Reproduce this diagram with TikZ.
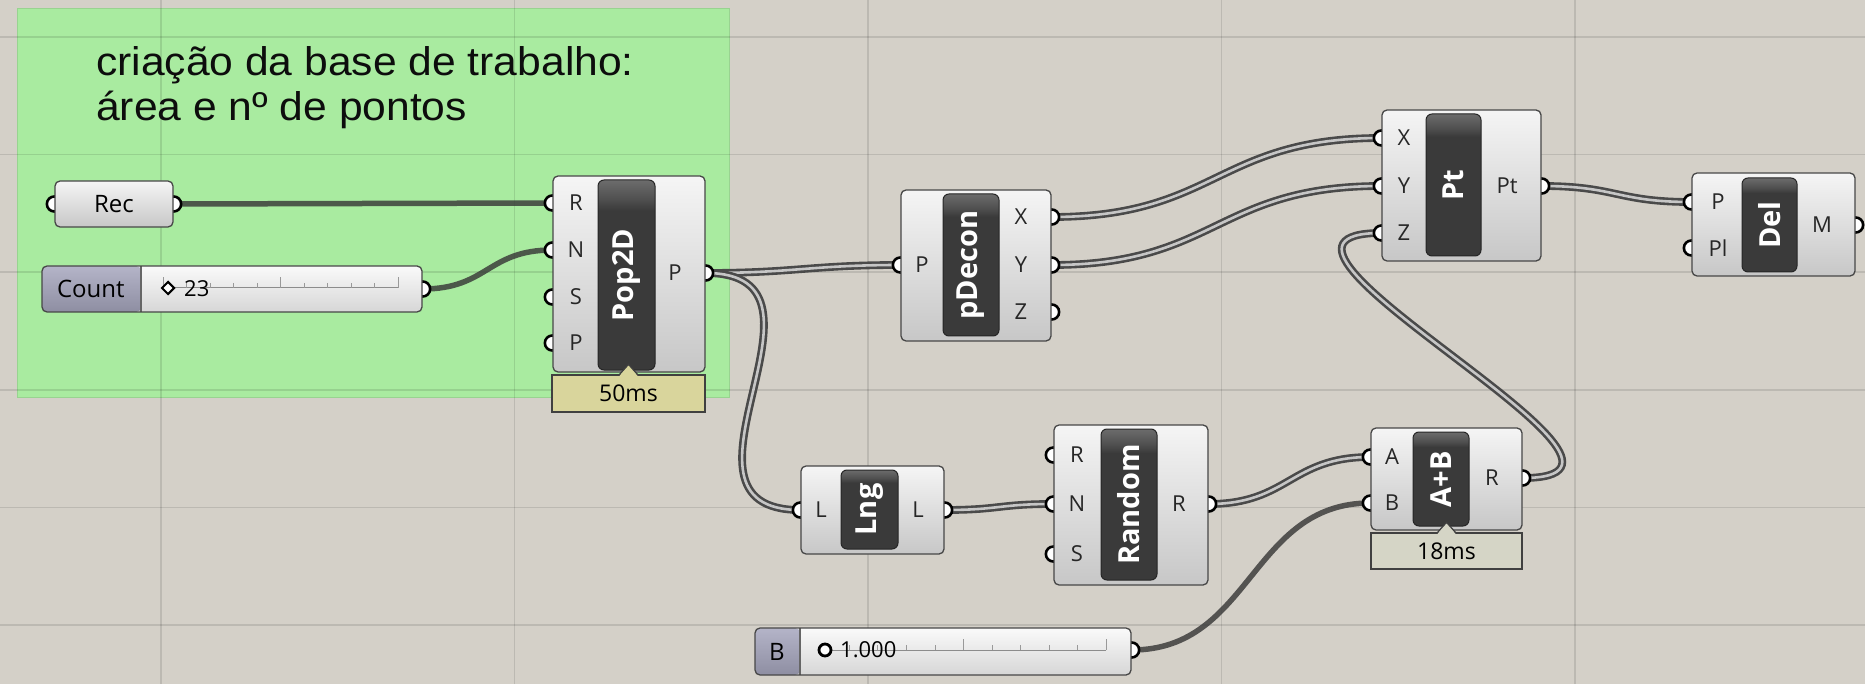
\documentclass[tikz,border=0pt]{standalone}
\usepackage{fontspec}
\setmainfont{Open Sans}
\newfontfamily\notefont[FakeStretch=1.065]{Liberation Sans}
\usepackage{tikz}
\usetikzlibrary{shapes.geometric}
\definecolor{canvasGray}{HTML}{D4D0C8}
\definecolor{groupGreen}{HTML}{A9EBA0}
\definecolor{wireDark}{HTML}{4A4A4A}
\definecolor{wireLight}{HTML}{C6C6C6}
\definecolor{barDark}{HTML}{3A3A3A}
\definecolor{barMid}{HTML}{505050}
\definecolor{barTop}{HTML}{6C6C6C}
\definecolor{timeKhaki}{HTML}{D9D59C}
\definecolor{timeGray}{HTML}{D5D5C6}
\definecolor{lilacTop}{HTML}{B4B4C8}
\definecolor{lilacBot}{HTML}{8E8EA2}
\pgfdeclarelayer{canvas}
\pgfdeclarelayer{wires}
\pgfdeclarelayer{grips}
\pgfsetlayers{canvas,wires,grips,main}
\pgfdeclareverticalshading{barshade}{100bp}{color(0bp)=(barDark); color(67bp)=(barDark); color(70bp)=(barMid); color(75bp)=(barTop); color(100bp)=(barTop)}

\begin{document}
\begin{tikzpicture}[
    x=1pt, y=-1pt,
    font=\fontsize{22}{24}\selectfont,
    comp/.style={rectangle, draw=black!72, line width=1.3pt, rounded corners=5pt, top color=black!4, bottom color=black!22, inner sep=0pt},
    bar/.style={rectangle, draw=black!85, line width=1pt, rounded corners=6pt, shading=barshade, inner sep=0pt},
    bartext/.style={rotate=90, text=white, font=\fontsize{29}{29}\selectfont\bfseries, inner sep=0pt},
    grip/.style={circle, draw=black, line width=2.6pt, fill=white, minimum size=15pt, inner sep=0pt},
    port/.style={inner sep=0pt, text=black!85},
    timer/.style={rectangle, draw=black!75, line width=1.2pt, inner sep=0pt, font=\fontsize{23}{23}\selectfont},
    slider/.style={comp, top color=black!2, bottom color=black!16, path picture={
        \shade[top color=lilacTop, bottom color=lilacBot] (path picture bounding box.north west) rectangle ([xshift=#1]path picture bounding box.south west);
        \draw[black!60, line width=1.2pt] ([xshift=#1]path picture bounding box.north west) -- ([xshift=#1]path picture bounding box.south west);}},
    note/.style={font=\notefont\fontsize{40}{40}\selectfont, text=black!95, inner sep=0pt, anchor=base west},
    list/.style={draw=wireDark, line width=2.6pt, double=wireLight, double distance=2.6pt},
    item/.style={draw=black!78, draw opacity=0.82, line width=5.5pt},
    gridline/.style={draw=black, draw opacity=0.11, line width=1.5pt}
]
\useasboundingbox (0,0) rectangle (1865,684);

% canvas, grid and group
\begin{pgfonlayer}{canvas}
\fill[canvasGray] (0,0) rectangle (1865,684);
\fill[groupGreen, draw=groupGreen!90!black, line width=1pt] (17,9) rectangle (729,397);
\foreach \gx in {161,514.5,868,1221.5,1575}
    \draw[gridline] (\gx,0) -- (\gx,684);
\foreach \gy in {37,154.6,272.2,389.8,507.4,625}
    \draw[gridline] (0,\gy) -- (1865,\gy);
\end{pgfonlayer}

\node[note] (note1) at (96,76) {criação da base de trabalho:};
\node[note] (note2) at (96,121) {área e nº de pontos};

% params and sliders
\node[comp, minimum width=118pt, minimum height=46pt, font=\fontsize{24}{24}\selectfont] (rec) at (114,204) {Rec};

\node[slider=99pt, minimum width=380pt, minimum height=46pt] (count) at (232,289) {};
\node[font=\fontsize{24}{24}\selectfont] (countname) at ([xshift=49.5pt]count.west) {Count};
\draw[black!45, line width=1pt] (163,288) -- (398,288);
\foreach \tx in {186.5,210,233.5,257,304,327.5,351,374.5}
    \draw[black!40, line width=1pt] (\tx,288) -- (\tx,283);
\foreach \tx in {163,280.5,398}
    \draw[black!40, line width=1pt] (\tx,288) -- (\tx,277);
\node[diamond, draw=black, line width=2pt, fill=white, minimum size=13pt, inner sep=0pt] (countknob) at (168,288) {};
\node[anchor=west, inner sep=0pt] (countval) at (184,289) {23};

\node[slider=45pt, minimum width=376pt, minimum height=47pt] (bnum) at (943,651.5) {};
\node[font=\fontsize{24}{24}\selectfont] (bname) at ([xshift=22.5pt]bnum.west) {B};
\draw[black!45, line width=1pt] (825,650) -- (1106,650);
\foreach \tx in {849,877,906,935,992,1020,1049,1077}
    \draw[black!40, line width=1pt] (\tx,650) -- (\tx,645);
\foreach \tx in {963,1106}
    \draw[black!40, line width=1pt] (\tx,650) -- (\tx,639);
\node[circle, draw=black, line width=2.8pt, fill=white, minimum size=12pt, inner sep=0pt] (bknob) at (825,650) {};
\node[anchor=west, inner sep=0pt] (bval) at (840,650) {1.000};

% Pop2D
\node[comp, minimum width=152pt, minimum height=196pt] (pop) at (629,274) {};
\node[bar, minimum width=57pt, minimum height=190pt] (popbar) at (626.5,275) {};
\node[bartext] (popname) at (popbar) {Pop2D};
\node[port] (popRl) at (576,203) {R};
\node[port] (popNl) at (576,250) {N};
\node[port] (popSl) at (576,297) {S};
\node[port] (popPl) at (576,343) {P};
\node[port] (popoutl) at (675,273) {P};
\node[timer, fill=timeKhaki, minimum width=153pt, minimum height=37pt] (poptime) at (628.5,393.5) {50ms};
\fill[timeKhaki] ([xshift=-9pt,yshift=-1.5pt]poptime.north) -- ([yshift=10pt]poptime.north) -- ([xshift=9pt,yshift=-1.5pt]poptime.north) -- cycle;
\draw[black!75, line width=1.2pt] ([xshift=-9pt]poptime.north) -- ([yshift=10pt]poptime.north) -- ([xshift=9pt]poptime.north);

% pDecon
\node[comp, minimum width=150pt, minimum height=151pt] (dec) at (976,265.5) {};
\node[bar, minimum width=56pt, minimum height=142pt] (decbar) at (971,265) {};
\node[bartext] (decname) at (decbar) {pDecon};
\node[port] (decPl) at (922,265) {P};
\node[port] (decXl) at (1021,217) {X};
\node[port] (decYl) at (1021,265) {Y};
\node[port] (decZl) at (1021,312) {Z};

% Pt
\node[comp, minimum width=159pt, minimum height=151pt] (pt) at (1461.5,185.5) {};
\node[bar, minimum width=55pt, minimum height=142pt] (ptbar) at (1453.5,185) {};
\node[bartext] (ptname) at (ptbar) {Pt};
\node[port] (ptXl) at (1404,138) {X};
\node[port] (ptYl) at (1404,186) {Y};
\node[port] (ptZl) at (1404,233) {Z};
\node[port] (ptoutl) at (1507,186) {Pt};

% Del
\node[comp, minimum width=163pt, minimum height=103pt] (del) at (1773.5,224.5) {};
\node[bar, minimum width=55pt, minimum height=94pt] (delbar) at (1769.5,225) {};
\node[bartext] (delname) at (delbar) {Del};
\node[port] (delPl) at (1718,202) {P};
\node[port] (delPll) at (1718,248) {Pl};
\node[port] (delMl) at (1822,225) {M};

% Lng
\node[comp, minimum width=143pt, minimum height=88pt] (lng) at (872.5,510) {};
\node[bar, minimum width=57pt, minimum height=79pt] (lngbar) at (869.5,509.5) {};
\node[bartext] (lngname) at (lngbar) {Lng};
\node[port] (lnginl) at (821,510) {L};
\node[port] (lngoutl) at (918,510) {L};

% Random
\node[comp, minimum width=154pt, minimum height=160pt] (rnd) at (1131,505) {};
\node[bar, minimum width=56pt, minimum height=151pt] (rndbar) at (1129,504.5) {};
\node[bartext] (rndname) at (rndbar) {Random};
\node[port] (rndRl) at (1077,455) {R};
\node[port] (rndNl) at (1077,504) {N};
\node[port] (rndSl) at (1077,554) {S};
\node[port] (rndoutl) at (1179,504) {R};

% A+B
\node[comp, minimum width=151pt, minimum height=102pt] (add) at (1446.5,479) {};
\node[bar, minimum width=56pt, minimum height=94pt] (addbar) at (1441,479) {};
\node[bartext] (addname) at (addbar) {A+B};
\node[port] (addAl) at (1392,457) {A};
\node[port] (addBl) at (1392,503) {B};
\node[port] (addoutl) at (1492,478) {R};
\node[timer, fill=timeGray, minimum width=151pt, minimum height=36pt] (addtime) at (1446.5,551) {18ms};
\fill[timeGray] ([xshift=-9pt,yshift=-1.5pt]addtime.north) -- ([yshift=10pt]addtime.north) -- ([xshift=9pt,yshift=-1.5pt]addtime.north) -- cycle;
\draw[black!75, line width=1.2pt] ([xshift=-9pt]addtime.north) -- ([yshift=10pt]addtime.north) -- ([xshift=9pt]addtime.north);

% grips
\begin{pgfonlayer}{grips}
\node[grip] (recin) at (rec.west) {};
\node[grip] (recout) at (rec.east) {};
\node[grip] (countout) at (count.east) {};
\node[grip] (bout) at (bnum.east |- 0,650) {};
\node[grip] (popR) at (pop.west |- 0,203) {};
\node[grip] (popN) at (pop.west |- 0,250) {};
\node[grip] (popS) at (pop.west |- 0,297) {};
\node[grip] (popP) at (pop.west |- 0,343) {};
\node[grip] (popout) at (pop.east |- 0,273) {};
\node[grip] (decP) at (dec.west |- 0,265) {};
\node[grip] (decX) at (dec.east |- 0,217) {};
\node[grip] (decY) at (dec.east |- 0,265) {};
\node[grip] (decZ) at (dec.east |- 0,312) {};
\node[grip] (ptX) at (pt.west |- 0,138) {};
\node[grip] (ptY) at (pt.west |- 0,186) {};
\node[grip] (ptZ) at (pt.west |- 0,233) {};
\node[grip] (ptout) at (pt.east |- 0,186) {};
\node[grip] (delP) at (del.west |- 0,202) {};
\node[grip] (delPlane) at (del.west |- 0,248) {};
\node[grip] (delM) at (del.east |- 0,225) {};
\node[grip] (lngin) at (lng.west) {};
\node[grip] (lngout) at (lng.east) {};
\node[grip] (rndR) at (rnd.west |- 0,455) {};
\node[grip] (rndN) at (rnd.west |- 0,504) {};
\node[grip] (rndS) at (rnd.west |- 0,554) {};
\node[grip] (rndout) at (rnd.east |- 0,504) {};
\node[grip] (addA) at (add.west |- 0,457) {};
\node[grip] (addB) at (add.west |- 0,503) {};
\node[grip] (addout) at (add.east |- 0,478) {};
\end{pgfonlayer}

% wires
\begin{pgfonlayer}{wires}
\draw[item] (recout.center) -- (popR.center);
\draw[item] (countout.center) .. controls +(65,0) and +(-65,0) .. (popN.center);
\draw[list] (popout.center) .. controls +(90,0) and +(-90,0) .. (decP.center);
\draw[list] (popout.center) .. controls +(150,0) and +(-150,0) .. (lngin.center);
\draw[list] (decX.center) .. controls +(165,0) and +(-165,0) .. (ptX.center);
\draw[list] (decY.center) .. controls +(165,0) and +(-165,0) .. (ptY.center);
\draw[list] (ptout.center) .. controls +(75,0) and +(-75,0) .. (delP.center);
\draw[list] (lngout.center) .. controls +(55,0) and +(-55,0) .. (rndN.center);
\draw[list] (rndout.center) .. controls +(80,0) and +(-80,0) .. (addA.center);
\draw[item] (bout.center) .. controls +(120,0) and +(-120,0) .. (addB.center);
\draw[list] (addout.center) .. controls +(180,0) and +(-180,0) .. (ptZ.center);
\end{pgfonlayer}

\end{tikzpicture}
\end{document}
